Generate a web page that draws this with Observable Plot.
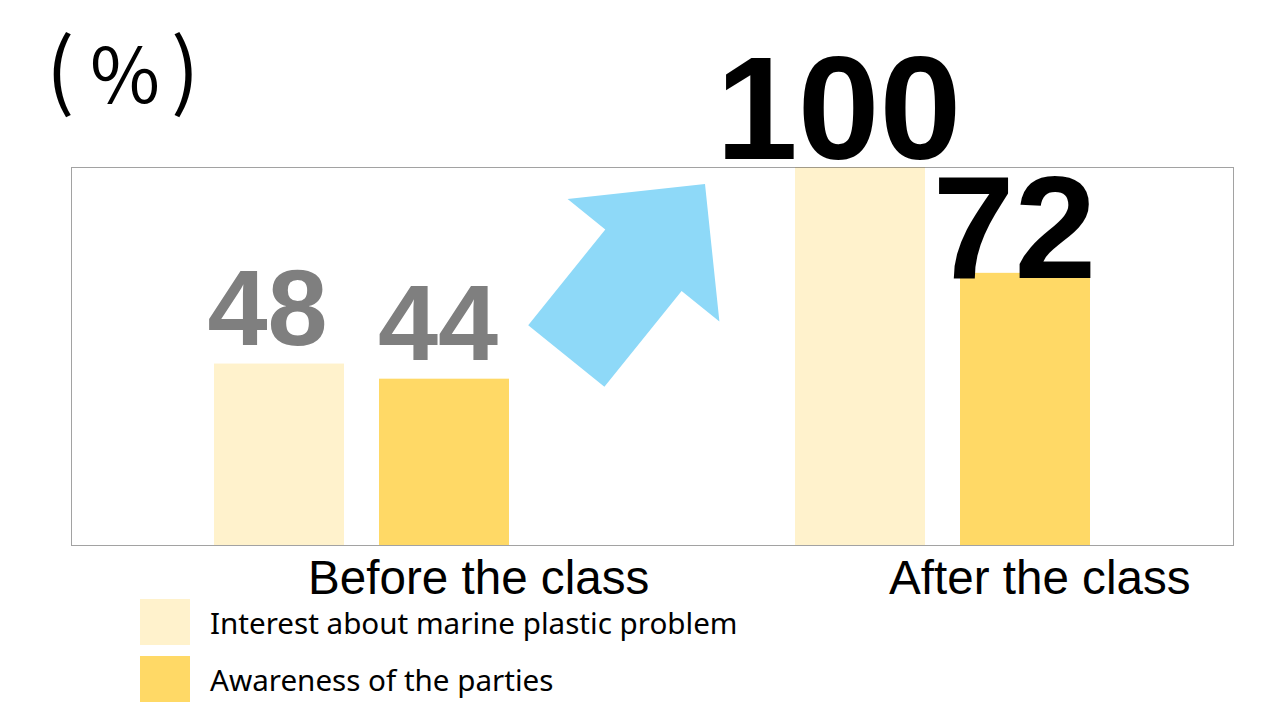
<!DOCTYPE html>
<html>
<head>
<meta charset="utf-8">
<script src="https://cdn.jsdelivr.net/npm/d3@7"></script>
<script src="https://cdn.jsdelivr.net/npm/@observablehq/plot@0.6"></script>
<style>
  html, body { margin: 0; padding: 0; background: #fff; }
  #wrap { position: relative; width: 1266px; height: 704px; overflow: hidden; }
  #chart { position: absolute; left: 0; top: 0; }
  #unit span { position: absolute; font-family: "Noto Sans CJK JP", sans-serif; line-height: 1; color: #000; white-space: nowrap; }
  .leg { position: absolute; left: 140px; display: flex; align-items: center; }
  .sw { width: 50px; height: 46px; }
  .lt { margin-left: 20px; font-family: "Noto Sans", sans-serif; font-size: 29.6px; color: #000; white-space: nowrap; }
</style>
</head>
<body>
<div id="wrap">
  <div id="chart"></div>
  <div id="unit"></div>
  <div id="legend"></div>
</div>
<script>
// ---- data ----
const groups = ["Before the class", "After the class"];
const series = ["Interest about marine plastic problem", "Awareness of the parties"];
const interest = [48, 100];
const awareness = [44, 72];
const colors = ["#FFF2CC", "#FFD966"];
const unitLabel = ["(", "%", ")"];

const data = groups.flatMap((g, i) => [
  {group: g, series: series[0], value: interest[i]},
  {group: g, series: series[1], value: awareness[i]}
]);

// ---- layout ----
const W = 1266, H = 704;
const mL = 71, mR = 33, mT = 167, mB = 159;
const bandW = (W - mL - mR) / groups.length;
const barW = 130, gap = 35;
const outer = (bandW - 2 * barW - gap) / 2;
const inner = outer + barW + gap;
const half = (barW + gap) / 2;

const sel = (g, s) => data.filter(d => d.group === groups[g] && d.series === series[s]);

function label(g, s, opts) {
  return Plot.text(sel(g, s), {
    x: "group", y: "value", text: d => String(d.value),
    lineAnchor: "bottom", fontFamily: "Liberation Sans, Arial, sans-serif", fontWeight: "bold",
    ...opts
  });
}

function arrowMark(index, scales, values, dimensions) {
  const x = scales.x, y = scales.y;
  const bw = x.bandwidth ? x.bandwidth() : bandW;
  const T = [x(groups[0]) + 0.8525 * bw, y(50)];
  const P = [x(groups[1]) + 0.0912 * bw, y(95.5)];
  const dx = P[0] - T[0], dy = P[1] - T[1];
  const len = Math.hypot(dx, dy);
  const u = [dx / len, dy / len], n = [-u[1], u[0]];
  const shaft = 49, head = 97.5, headLen = 98;
  const B = [P[0] - u[0] * headLen, P[1] - u[1] * headLen];
  const pt = (p, k) => [p[0] + n[0] * k, p[1] + n[1] * k];
  const pts = [pt(T, shaft), pt(B, shaft), pt(B, head), P, pt(B, -head), pt(B, -shaft), pt(T, -shaft)];
  const g = document.createElementNS("http://www.w3.org/2000/svg", "g");
  const path = document.createElementNS("http://www.w3.org/2000/svg", "path");
  path.setAttribute("d", "M" + pts.map(p => p[0].toFixed(1) + "," + p[1].toFixed(1)).join("L") + "Z");
  path.setAttribute("fill", "#8ED9F8");
  g.appendChild(path);
  return g;
}

const chart = Plot.plot({
  width: W, height: H,
  marginLeft: mL, marginRight: mR, marginTop: mT, marginBottom: mB,
  x: {domain: groups, padding: 0, axis: null},
  y: {domain: [0, 100], axis: null},
  color: {domain: series, range: colors},
  style: {background: "transparent", overflow: "visible"},
  marks: [
    Plot.barY(data.filter(d => d.series === series[0]), {x: "group", y: "value", fill: "series", insetLeft: outer, insetRight: bandW - outer - barW}),
    Plot.barY(data.filter(d => d.series === series[1]), {x: "group", y: "value", fill: "series", insetLeft: inner, insetRight: bandW - inner - barW}),
    Plot.frame({stroke: "#444", strokeDasharray: "1,1"}),
    arrowMark,
    label(0, 0, {dx: -half - 12, dy: -18.6, fontSize: 108, fill: "#7F7F7F"}),
    label(0, 1, {dx: half - 6.5, dy: -18.7, fontSize: 108, fill: "#7F7F7F"}),
    label(1, 0, {dx: -half - 22, dy: -9, fontSize: 147, fill: "#000"}),
    label(1, 1, {dx: half - 11, dy: 4.2, fontSize: 147, fill: "#000"}),
    Plot.text(groups, {x: d => d, frameAnchor: "bottom", lineAnchor: "bottom", textAnchor: "start",
      dx: -54, dy: 48, fontSize: 47.6, fontFamily: "Liberation Sans, Arial, sans-serif", fill: "#000"})
  ]
});
document.getElementById("chart").appendChild(chart);

// unit label "(%)"
const unit = document.getElementById("unit");
const unitPos = [{left: 46, top: 23, size: 84}, {left: 90, top: 32, size: 76}, {left: 171, top: 23, size: 84}];
unitLabel.forEach((ch, i) => {
  const sp = document.createElement("span");
  sp.textContent = ch;
  sp.style.left = unitPos[i].left + "px";
  sp.style.top = unitPos[i].top + "px";
  sp.style.fontSize = unitPos[i].size + "px";
  unit.appendChild(sp);
});

const legend = document.getElementById("legend");
const legTops = [599, 656];
series.forEach((s, i) => {
  const row = document.createElement("div");
  row.className = "leg";
  row.style.top = legTops[i] + "px";
  const sw = document.createElement("div");
  sw.className = "sw";
  sw.style.background = colors[i];
  const t = document.createElement("div");
  t.className = "lt";
  t.textContent = s;
  row.appendChild(sw); row.appendChild(t);
  legend.appendChild(row);
});
</script>
</body>
</html>
